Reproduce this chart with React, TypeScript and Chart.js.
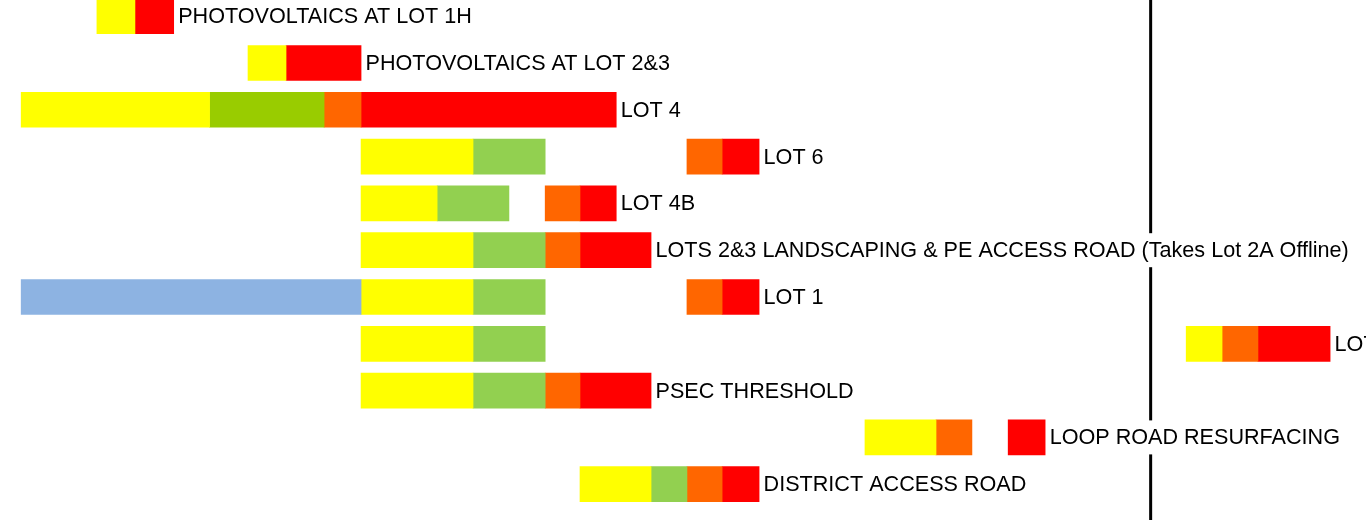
import React, { useEffect, useRef } from "react";
import { Chart, registerables } from "chart.js";

Chart.register(...registerables);

// Row labels (top to bottom)
const rowLabels: string[] = [
  "PHOTOVOLTAICS AT LOT 1H",
  "PHOTOVOLTAICS AT LOT 2&3",
  "LOT 4",
  "LOT 6",
  "LOT 4B",
  "LOTS 2&3 LANDSCAPING & PE ACCESS ROAD (Takes Lot 2A Offline)",
  "LOT 1",
  "LOT 2A",
  "PSEC THRESHOLD",
  "LOOP ROAD RESURFACING",
  "DISTRICT ACCESS ROAD",
];

type Seg = [number, number, number]; // [row, start, end] in months

const bluePhase: Seg[] = [[6, 0.53, 10.0]];

const yellowPhase: Seg[] = [
  [0, 2.64, 3.7],
  [1, 6.85, 7.91],
  [2, 0.53, 5.78],
  [3, 10.0, 13.12],
  [4, 10.0, 12.12],
  [5, 10.0, 13.12],
  [6, 10.0, 13.12],
  [7, 10.0, 13.12],
  [7, 32.99, 33.99],
  [8, 10.0, 13.12],
  [9, 24.04, 26.02],
  [10, 16.1, 18.08],
];

const darkGreenPhase: Seg[] = [[2, 5.78, 8.97]];

const greenPhase: Seg[] = [
  [3, 13.12, 15.13],
  [4, 12.12, 14.12],
  [5, 13.12, 15.13],
  [6, 13.12, 15.13],
  [7, 13.12, 15.13],
  [8, 13.12, 15.13],
  [10, 18.08, 19.08],
];

const orangePhase: Seg[] = [
  [2, 8.97, 10.0],
  [3, 19.08, 20.06],
  [4, 15.13, 16.1],
  [5, 15.13, 16.1],
  [6, 19.08, 20.06],
  [7, 33.99, 34.99],
  [8, 15.13, 16.1],
  [9, 26.02, 27.02],
  [10, 19.08, 20.06],
];

const redPhase: Seg[] = [
  [0, 3.7, 4.78],
  [1, 7.91, 10.0],
  [2, 10.0, 17.11],
  [3, 20.06, 21.09],
  [4, 16.1, 17.11],
  [5, 16.1, 18.08],
  [6, 20.06, 21.09],
  [7, 34.99, 37.0],
  [8, 16.1, 18.08],
  [9, 28.03, 29.06],
  [10, 20.06, 21.09],
];

const markerValue = 32.0;

const phases: { name: string; color: string; segs: Seg[] }[] = [
  { name: "Pre", color: "#8DB3E2", segs: bluePhase },
  { name: "Yellow", color: "#FFFF00", segs: yellowPhase },
  { name: "DarkGreen", color: "#99CC00", segs: darkGreenPhase },
  { name: "Green", color: "#92D050", segs: greenPhase },
  { name: "Orange", color: "#FF6600", segs: orangePhase },
  { name: "Red", color: "#FF0000", segs: redPhase },
];

const FONT = '21.6px "Liberation Sans", Arial, sans-serif';

const labelPlugin = {
  id: "ganttLabels",
  afterDatasetsDraw(chart: any) {
    const { ctx, chartArea, scales } = chart;
    const xs = scales.x;
    const ys = scales.y;
    ctx.save();
    // vertical marker line
    const mx = xs.getPixelForValue(markerValue);
    ctx.strokeStyle = "#000";
    ctx.lineWidth = 3;
    ctx.beginPath();
    ctx.moveTo(mx, chartArea.top);
    ctx.lineTo(mx, chartArea.bottom);
    ctx.stroke();

    ctx.font = FONT;
    ctx.textBaseline = "middle";
    ctx.textAlign = "left";
    rowLabels.forEach((label, i) => {
      let end = -Infinity;
      phases.forEach((p) =>
        p.segs.forEach((s) => {
          if (s[0] === i && s[2] > end) end = s[2];
        })
      );
      const px = xs.getPixelForValue(end);
      const py = ys.getPixelForValue(i);
      const w = ctx.measureText(label).width;
      ctx.fillStyle = "#FFFFFF";
      ctx.fillRect(px + 1, py - 17, w + 8, 34);
      ctx.fillStyle = "#000000";
      ctx.fillText(label, px + 4.5, py + 1);
    });
    ctx.restore();
  },
};

export default function App() {
  const ref = useRef<HTMLCanvasElement | null>(null);
  useEffect(() => {
    if (!ref.current) return;
    const chart = new Chart(ref.current, {
      type: "bar",
      data: {
        datasets: phases.map((p) => ({
          label: p.name,
          data: p.segs.map((s) => ({ y: s[0], x: [s[1], s[2]] })) as any,
          backgroundColor: p.color,
          borderWidth: 0,
          grouped: false,
          barThickness: 35,
        })),
      },
      options: {
        indexAxis: "y",
        responsive: false,
        animation: false,
        layout: { padding: 0 },
        plugins: {
          legend: { display: false },
          tooltip: { enabled: false },
        },
        scales: {
          x: { type: "linear", min: -0.06, max: 38.0, display: false, offset: false },
          y: {
            type: "linear",
            reverse: true,
            min: -0.346,
            max: 10.765,
            offset: false,
            display: false,
          },
        },
      } as any,
      plugins: [labelPlugin],
    });
    return () => chart.destroy();
  }, []);
  return (
    <div style={{ position: "fixed", left: 0, top: 0, width: 1366, height: 520, background: "#fff" }}>
      <canvas ref={ref} width={1366} height={520} />
    </div>
  );
}
